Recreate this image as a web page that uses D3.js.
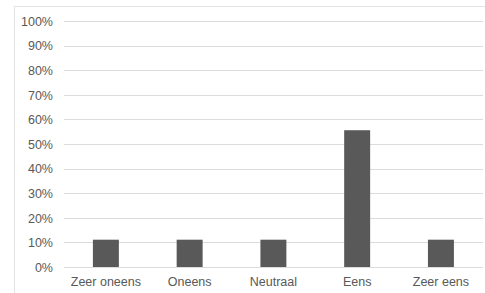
<!DOCTYPE html>
<html><head><meta charset="utf-8">
<script src="https://cdn.jsdelivr.net/npm/d3@7"></script>
<style>
html,body{margin:0;padding:0;background:#fff;}
svg{display:block;}
</style></head>
<body>
<svg id="chart" width="485" height="293"></svg>
<script>
const categories = ["Zeer oneens", "Oneens", "Neutraal", "Eens", "Zeer eens"];
const values = [0.111, 0.111, 0.111, 0.556, 0.111];
const yTicks = [0, 0.1, 0.2, 0.3, 0.4, 0.5, 0.6, 0.7, 0.8, 0.9, 1.0];

const svg = d3.select("#chart");
const W = 485, H = 293;
const m = {left: 64, right: 2, top: 21, bottom: 26};

// outer chart frame
svg.append("rect").attr("x", 14.5).attr("y", 6.5).attr("width", 480).attr("height", 300)
  .attr("fill", "none").attr("stroke", "#e3e3e3").attr("stroke-width", 1);

const x = d3.scaleBand().domain(categories).range([m.left, 482.8]).paddingInner(0.69).paddingOuter(0.345);
const y = d3.scaleLinear().domain([0, 1]).range([267, 21]);

const font = "'Liberation Sans', Arial, Helvetica, sans-serif";

// gridlines
svg.append("g").selectAll("line").data(yTicks).join("line")
  .attr("x1", m.left).attr("x2", 483)
  .attr("y1", d => Math.round(y(d)) + 0.5).attr("y2", d => Math.round(y(d)) + 0.5)
  .attr("stroke", "#dcdcdc").attr("stroke-width", 1);

// y axis
const yAxis = d3.axisLeft(y).tickValues(yTicks).tickFormat(d3.format(".0%")).tickSize(0).tickPadding(0);
const gy = svg.append("g").attr("transform", "translate(53,0)").call(yAxis);
gy.select(".domain").remove();
gy.selectAll("text").attr("font-family", font).attr("font-size", 12.5).attr("fill", "#595959").attr("dy", "0.35em");

// bars
svg.append("g").selectAll("rect").data(categories).join("rect")
  .attr("x", d => x(d)).attr("width", x.bandwidth())
  .attr("y", (d, i) => y(values[i])).attr("height", (d, i) => y(0) - y(values[i]))
  .attr("fill", "#595959");

// x axis
const xAxis = d3.axisBottom(x).tickSize(0).tickPadding(0);
const gx = svg.append("g").attr("transform", "translate(0,277)").call(xAxis);
gx.select(".domain").remove();
gx.selectAll("text").attr("font-family", font).attr("font-size", 12.5).attr("fill", "#595959").attr("dy", "0.71em");
</script>
</body></html>
